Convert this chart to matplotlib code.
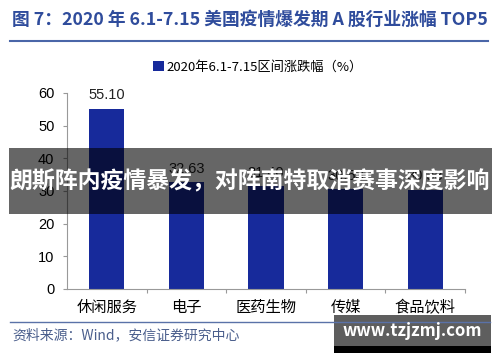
import matplotlib.pyplot as plt
from matplotlib.patches import Rectangle
from matplotlib.lines import Line2D

plt.rcParams['font.family'] = ['Noto Sans CJK SC', 'DejaVu Sans']

categories = ["休闲服务", "电子", "医药生物", "传媒", "食品饮料"]
values = [55.10, 32.63, 31.40, 30.53, 30.38]
series_name = "2020年6.1-7.15区间涨跌幅（%）"
title = "图 7：2020 年 6.1-7.15 美国疫情爆发期 A 股行业涨幅 TOP5"
source = "资料来源：Wind，安信证券研究中心"
banner = "朗斯阵内疫情暴发，对阵南特取消赛事深度影响"
watermark = "www.tzjzmj.com"

W, H = 500, 362
fig = plt.figure(figsize=(W / 100, H / 100), dpi=100)
ax = fig.add_axes([67 / W, 1 - 289 / H, 398 / W, 196 / H])

bar_color = "#172A9B"
bars = ax.bar(range(len(categories)), values, width=0.44, color=bar_color, label=series_name)
for i, v in enumerate(values):
    ax.text(i, v + 2.0, f"{v:.2f}", ha='center', va='bottom', fontsize=10.5, color='#222222',
            family=['Liberation Sans', 'DejaVu Sans'])

ax.set_xlim(-0.5, len(categories) - 0.5)
ax.set_ylim(0, 60)
ax.set_yticks(range(0, 61, 10))
ax.set_xticks([i + 0.5 for i in range(len(categories))])
ax.set_xticklabels([])
ax.set_xticks(range(len(categories)), minor=True)
ax.set_xticklabels(categories, minor=True, fontsize=11)
ax.tick_params(axis='x', which='minor', length=0, pad=7)
ax.tick_params(axis='x', which='major', length=3, direction='out', color='#999999')
ax.tick_params(axis='y', length=3, color='#999999', labelsize=10.5, pad=6)
for lbl in ax.get_yticklabels():
    lbl.set_family(['Liberation Sans', 'DejaVu Sans'])
for s in ['top', 'right']:
    ax.spines[s].set_visible(False)
for s in ['left', 'bottom']:
    ax.spines[s].set_color('#999999')
    ax.spines[s].set_linewidth(0.8)

fig.legend(handles=bars[:1], labels=[series_name], loc='center', bbox_to_anchor=(258 / W, 1 - 67 / H),
           frameon=False, fontsize=9.5, handlelength=0.8, handleheight=0.8, handletextpad=0.2)

# title and rules
fig.text(12 / W, 1 - 20 / H, title, fontsize=12.8, fontweight='bold', color='#2F4C9C', va='center', ha='left')
fig.add_artist(Line2D([10 / W, 488 / W], [1 - 41 / H, 1 - 41 / H], color='#4A66A8', lw=1.5))
fig.add_artist(Line2D([10 / W, 490 / W], [1 - 322 / H, 1 - 322 / H], color='#5A72A8', lw=1))
fig.text(12 / W, 1 - 335 / H, source, fontsize=10, style='italic', color='#4A5E8C', va='center', ha='left')

# overlay banner
fig.add_artist(Rectangle((9 / W, 1 - 214 / H), 483 / W, 66 / H, transform=fig.transFigure,
                         facecolor='black', alpha=0.6, edgecolor='none'))
fig.text(250 / W, 1 - 182 / H, banner, fontsize=16.5, fontweight='bold', color='white', ha='center', va='center')

# watermark box
fig.add_artist(Rectangle((334 / W, 1 - 346 / H), 157 / W, 31 / H, transform=fig.transFigure,
                         facecolor='#5E5E5E', edgecolor='none'))
fig.add_artist(Rectangle((334 / W, 1 - 353 / H), 157 / W, 7 / H, transform=fig.transFigure,
                         facecolor='black', edgecolor='none'))
fig.text(412 / W, 1 - 331 / H, watermark, fontsize=12, fontweight='bold', color='white', ha='center', va='center')

fig.savefig("out.png", dpi=100)
